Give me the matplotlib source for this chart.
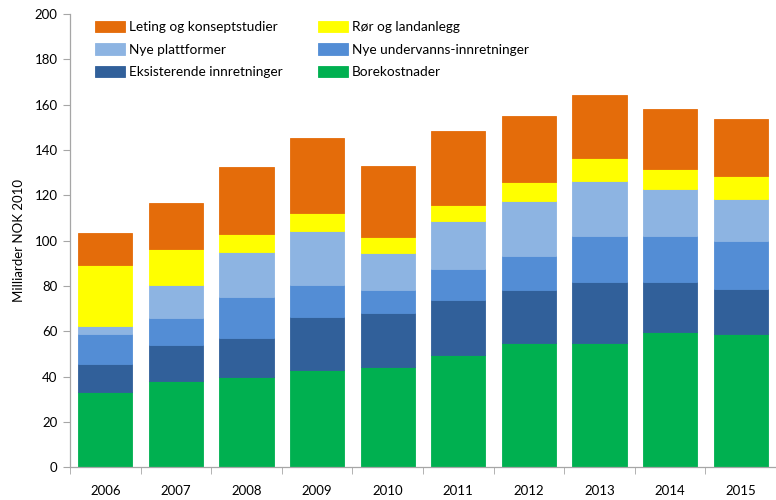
import matplotlib
matplotlib.use("Agg")
import matplotlib.pyplot as plt
import numpy as np

years = ["2006", "2007", "2008", "2009", "2010", "2011", "2012", "2013", "2014", "2015"]
borekostnader = [33.1, 37.9, 39.8, 43.1, 44.1, 49.5, 55.0, 54.8, 59.7, 58.8]
eksisterende = [12.3, 16.0, 17.1, 23.2, 23.8, 24.3, 23.2, 27.1, 21.9, 19.8]
nye_undervanns = [13.4, 11.8, 18.2, 14.3, 10.3, 13.7, 15.0, 20.3, 20.3, 21.2]
nye_plattformer = [3.5, 14.6, 19.9, 23.8, 16.2, 21.1, 24.4, 24.2, 20.9, 18.4]
ror_landanlegg = [26.8, 16.1, 7.8, 7.6, 7.3, 7.2, 8.4, 9.9, 8.7, 10.2]
leting = [14.1, 20.3, 29.5, 33.1, 31.2, 32.5, 29.0, 27.9, 26.5, 25.4]

series = [
    ("Borekostnader", borekostnader, "#00B050"),
    ("Eksisterende innretninger", eksisterende, "#31609A"),
    ("Nye undervanns-innretninger", nye_undervanns, "#538DD5"),
    ("Nye plattformer", nye_plattformer, "#8DB4E2"),
    ("Rør og landanlegg", ror_landanlegg, "#FFFF00"),
    ("Leting og konseptstudier", leting, "#E46C0A"),
]

plt.rcParams['font.family'] = ['Lato', 'DejaVu Sans']

fig = plt.figure(figsize=(7.76, 5.0), dpi=100)
ax = fig.add_axes([70/776, 32.7/500, 706/776, 453.3/500])

x = np.arange(len(years))
bottom = np.zeros(len(years))
handles = {}
for name, vals, col in series:
    b = ax.bar(x, vals, width=0.77, bottom=bottom, color=col, edgecolor=col, linewidth=0.6, label=name, zorder=2)
    handles[name] = b
    bottom += np.array(vals)

ax.set_xlim(-0.5, -0.5 + 706/72)
ax.set_ylim(0, 200)
ax.set_yticks(np.arange(0, 201, 20))
ax.set_xticks(x)
ax.set_xticklabels(years)
ax.set_xticks(np.arange(-0.5, 10, 1), minor=True)
ax.tick_params(axis='x', which='major', length=0, pad=13, labelsize=9.5, colors='#000000')
ax.tick_params(axis='x', which='minor', length=5, color='#A6A6A6')
ax.tick_params(axis='y', length=5, color='#A6A6A6', labelsize=9.5, pad=4)
for s in ['top', 'right']:
    ax.spines[s].set_visible(False)
for s in ['left', 'bottom']:
    ax.spines[s].set_color('#A6A6A6')
    ax.spines[s].set_linewidth(0.9)

ax.set_ylabel("Milliarder NOK 2010", fontsize=9.5, labelpad=7)

order = ["Leting og konseptstudier", "Nye plattformer", "Eksisterende innretninger",
         "Rør og landanlegg", "Nye undervanns-innretninger", "Borekostnader"]
leg = ax.legend([handles[n] for n in order], order, ncol=2, loc='upper left',
                bbox_to_anchor=(0.018, 1.012), frameon=False, fontsize=9.8,
                handlelength=2.2, handleheight=0.9, handletextpad=0.3,
                columnspacing=2.6, labelspacing=0.75)

fig.savefig("out.png", dpi=100)
